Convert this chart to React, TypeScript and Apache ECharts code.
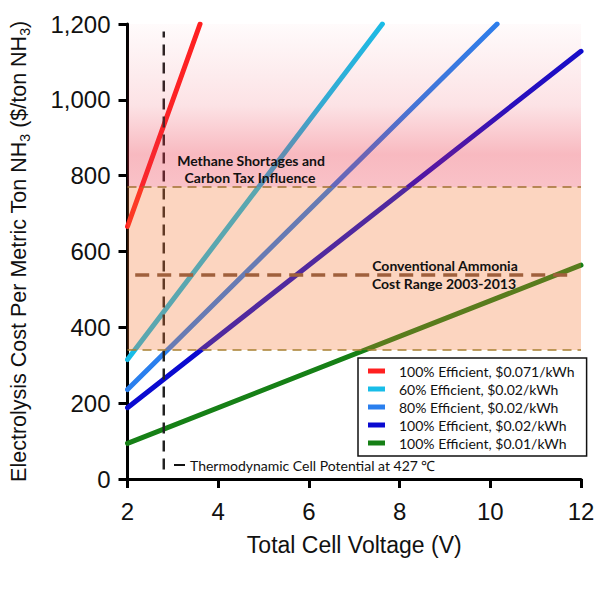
import React, { useEffect, useRef } from "react";
import * as echarts from "echarts";

const seriesNames = [
  "100% Efficient, $0.071/kWh",
  "60% Efficient, $0.02/kWh",
  "80% Efficient, $0.02/kWh",
  "100% Efficient, $0.02/kWh",
  "100% Efficient, $0.01/kWh",
];
const seriesColors = ["#ff2020", "#18bde8", "#2a7fee", "#0a0ad0", "#168016"];
const redLine = [[2, 666], [3.6, 1200]];
const cyanLine = [[2, 315], [7.62, 1200]];
const lightBlueLine = [[2, 236], [10.15, 1200]];
const blueLine = [[2, 188], [12, 1128]];
const greenLine = [[2, 94], [12, 564]];
const seriesData = [redLine, cyanLine, lightBlueLine, blueLine, greenLine];

const conventionalBand = [340, 770];
const methaneBand = [770, 1200];
const conventionalMid = 540;
const thermoVoltage = 2.8;
const thermoLine = [[thermoVoltage, 25], [thermoVoltage, 1180]];

export default function App() {
  const ref = useRef<HTMLDivElement>(null);
  useEffect(() => {
    const chart = echarts.init(ref.current!, null, { renderer: "svg" });
    const lineSeries = seriesData.map((d, i) => ({
      name: seriesNames[i],
      type: "line",
      data: d,
      symbol: "none",
      z: 2,
      color: seriesColors[i],
      lineStyle: { width: 5, color: seriesColors[i], cap: "round" },
    }));
    const bold = (text: string, x: number, y: number) => ({
      type: "text",
      x,
      y,
      z: 10,
      style: {
        text,
        fontFamily: "Lato",
        fontWeight: "bold",
        fontSize: 14,
        fill: "#111",
        align: "center",
        verticalAlign: "middle",
      },
    });
    chart.setOption({
      animation: false,
      grid: { left: 127, right: 19, top: 24, bottom: 116 },
      legend: {
        data: seriesNames,
        orient: "vertical",
        left: 358,
        top: 358,
        icon: "rect",
        itemWidth: 17,
        itemHeight: 5,
        itemGap: 4,
        padding: [6, 12, 6, 10],
        backgroundColor: "#fff",
        borderColor: "#111",
        borderWidth: 1.5,
        borderRadius: 0,
        z: 20,
        textStyle: { fontFamily: "Lato", fontSize: 14, color: "#111", lineHeight: 14, padding: [0, 0, 0, 9] },
      },
      xAxis: {
        type: "value",
        min: 2,
        max: 12,
        interval: 2,
        name: "Total Cell Voltage (V)",
        nameLocation: "middle",
        nameGap: 54,
        nameTextStyle: { fontFamily: "Liberation Sans", fontSize: 23, color: "#111" },
        axisLine: { lineStyle: { color: "#000", width: 3 } },
        axisTick: { length: 9, lineStyle: { color: "#000", width: 3 } },
        axisLabel: { fontFamily: "Liberation Sans", fontSize: 24, color: "#111", margin: 20 },
        splitLine: { show: false },
      },
      yAxis: {
        type: "value",
        min: 0,
        max: 1200,
        interval: 200,
        name: "Electrolysis Cost Per Metric Ton NH{sub|3} ($/ton NH{sub|3})",
        nameLocation: "middle",
        nameGap: 96,
        nameTextStyle: {
          fontFamily: "Liberation Sans",
          fontSize: 21.5,
          color: "#111",
          rich: {
            sub: { fontFamily: "Liberation Sans", fontSize: 14, color: "#111", padding: [11, 0, 0, 0] },
          },
        },
        axisLine: { show: true, lineStyle: { color: "#000", width: 3 } },
        axisTick: { show: true, length: 9, lineStyle: { color: "#000", width: 3 } },
        axisLabel: {
          fontFamily: "Liberation Sans",
          fontSize: 24,
          color: "#111",
          margin: 17,
          formatter: (v: number) => v.toLocaleString("en-US"),
        },
        splitLine: { show: false },
      },
      series: [
        ...lineSeries,
        {
          name: "thermo",
          type: "line",
          data: thermoLine,
          symbol: "none",
          z: 3,
          lineStyle: { color: "#222", width: 2.5, type: [11, 7] },
        },
        {
          name: "bands",
          type: "line",
          data: [],
          z: 4,
          markArea: {
            silent: true,
            z: 4,
            data: [
              [
                {
                  xAxis: 2,
                  yAxis: conventionalBand[0],
                  itemStyle: { color: "rgba(245,115,45,0.3)" },
                },
                { xAxis: 12, yAxis: conventionalBand[1] },
              ],
              [
                {
                  xAxis: 2,
                  yAxis: methaneBand[0],
                  itemStyle: {
                    color: new echarts.graphic.LinearGradient(0, 0, 0, 1, [
                      { offset: 0, color: "rgba(235,50,70,0.02)" },
                      { offset: 0.5, color: "rgba(235,50,70,0.14)" },
                      { offset: 0.8, color: "rgba(235,50,70,0.34)" },
                      { offset: 1, color: "rgba(235,50,70,0.3)" },
                    ]),
                  },
                },
                { xAxis: 12, yAxis: methaneBand[1] },
              ],
            ],
          },
        },
        {
          name: "refLines",
          type: "line",
          data: [],
          z: 5,
          markLine: {
            silent: true,
            z: 6,
            symbol: "none",
            label: { show: false },
            data: [
              [
                { coord: [2, conventionalBand[0]], lineStyle: { color: "#a88030", width: 1.5, type: [9, 6] } },
                { coord: [12, conventionalBand[0]] },
              ],
              [
                { coord: [2, conventionalBand[1]], lineStyle: { color: "#a07030", width: 1.5, type: [9, 6] } },
                { coord: [12, conventionalBand[1]] },
              ],
              [
                { coord: [2.17, conventionalMid], lineStyle: { color: "#a0603c", width: 3.5, type: [14, 8] } },
                { coord: [11.8, conventionalMid] },
              ],
            ],
          },
        },
      ],
      graphic: [
        bold("Methane Shortages and", 251, 160),
        bold("Carbon Tax Influence", 250, 177),
        bold("Conventional Ammonia", 445, 265),
        bold("Cost Range 2003-2013", 444, 283),
        {
          type: "line",
          z: 10,
          shape: { x1: 174, y1: 465, x2: 185, y2: 465 },
          style: { stroke: "#111", lineWidth: 2 },
        },
        {
          type: "text",
          x: 190,
          y: 465,
          z: 10,
          style: {
            text: "Thermodynamic Cell Potential at 427 ℃",
            fontFamily: "Lato",
            fontSize: 14,
            fill: "#111",
            align: "left",
            verticalAlign: "middle",
          },
        },
      ],
    });
    return () => chart.dispose();
  }, []);
  return (
    <div
      ref={ref}
      style={{ position: "absolute", left: 0, top: 0, width: 600, height: 595, background: "#fff" }}
    />
  );
}
